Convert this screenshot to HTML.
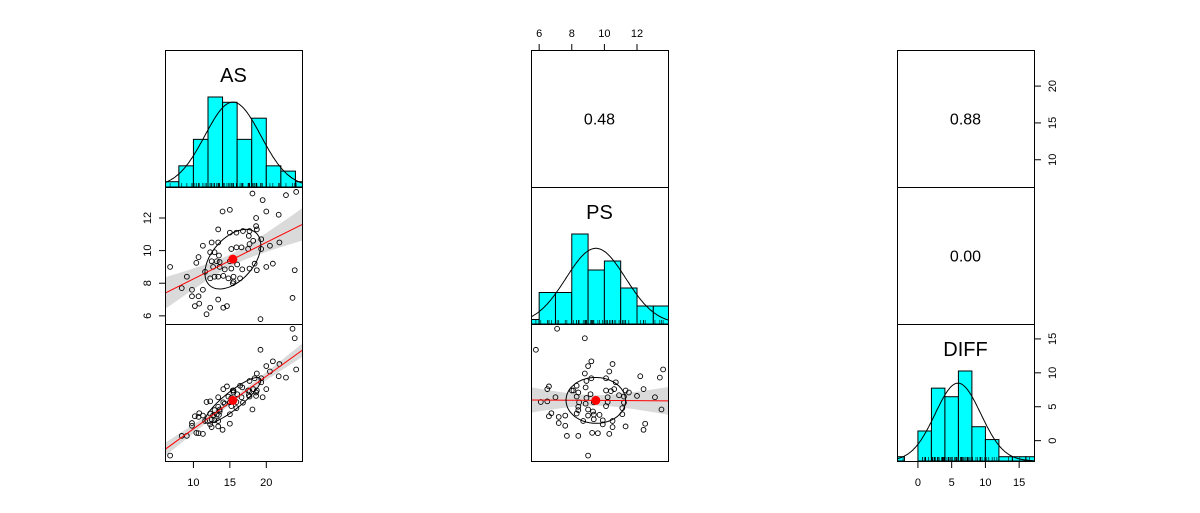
<!DOCTYPE html>
<html><head><meta charset="utf-8"><style>
html,body{margin:0;padding:0;background:#fff;width:1200px;height:513px;overflow:hidden}
svg text{font-family:"Liberation Sans",Arial,sans-serif}
</style></head><body>
<svg id="chart" width="1200" height="513" viewBox="0 0 1200 513" xmlns="http://www.w3.org/2000/svg"></svg>
<script>
const varNames = ["AS","PS","DIFF"];
const asVals = [6.8,18.1,19.5,22.7,24.1,14.0,15.0,20.0,21.7,18.6,18.6,13.4,15.0,15.9,16.8,17.7,18.7,17.6,12.5,13.4,11.3,17.7,18.2,12.3,12.9,13.5,15.2,15.9,16.6,17.5,19.3,21.8,20.5,19.3,10.7,10.4,12.5,13.2,13.6,15.0,16.0,12.7,13.6,14.3,15.2,16.7,17.7,18.4,18.7,20.0,20.9,23.9,11.6,12.3,12.9,13.4,14.1,14.8,15.5,16.4,15.5,15.4,9.1,8.4,9.8,11.3,9.8,10.7,10.8,10.2,13.4,12.3,14.1,14.6,11.8,23.6,19.2];
const psVals = [9.0,13.5,13.1,13.4,13.6,12.4,12.5,12.4,12.2,12.0,11.5,11.3,11.1,11.1,11.2,11.2,11.3,10.9,10.5,10.5,10.3,10.4,10.6,9.9,9.9,9.7,10.1,10.2,10.2,10.1,10.7,10.5,10.3,10.1,9.6,9.25,9.35,9.35,9.3,9.35,9.15,9.0,9.0,8.85,8.9,8.85,8.9,9.2,8.8,9.0,9.2,8.8,8.7,8.3,8.4,8.4,8.45,8.3,8.4,8.3,8.1,8.0,8.4,7.7,7.6,7.6,7.2,7.2,6.75,6.6,7.0,6.5,6.5,6.6,6.1,7.1,5.8];
const diffVals = asVals.map((a,i)=>+(a-psVals[i]).toFixed(2));
const corrLabels = ["0.48","0.88","0.00"];
const asTicks = [10,15,20];
const psTicks = [6,8,10,12];
const diffTicks = [0,5,10,15];
const asBreaks = [6,8,10,12,14,16,18,20,22,24,26];
const psBreaks = [5,6,7,8,9,10,11,12,13,14];
const diffBreaks = [-4,-2,0,2,4,6,8,10,12,14,16,18];

const svg = document.getElementById('chart');
const NS = "http://www.w3.org/2000/svg";
function mk(tag, attrs, parent){const e=document.createElementNS(NS,tag);for(const k in attrs)e.setAttribute(k,attrs[k]);(parent||svg).appendChild(e);return e;}
const cols=[165,531,897], rows=[50,187,324], W=137, H=137;
function lin(d0,d1,r0,r1){return v=>r0+(v-d0)*(r1-r0)/(d1-d0);}
const xs=[lin(6.1,24.9,165,302), lin(5.5,13.9,531,668), lin(-3.1,17.2,897,1034)];
const ys=[lin(6.3,24.9,187,50), lin(5.5,13.9,324,187), lin(-3.0,17.2,461,324)];
const xr=[[6.1,24.9],[5.5,13.9],[-3.1,17.2]];
const data=[asVals,psVals,diffVals], breaks=[asBreaks,psBreaks,diffBreaks];
const mean=a=>a.reduce((s,v)=>s+v,0)/a.length;
const sd=a=>{const m=mean(a);return Math.sqrt(a.reduce((s,v)=>s+(v-m)*(v-m),0)/(a.length-1));};

const defs=mk('defs',{});
for(let r=0;r<3;r++)for(let c=0;c<3;c++){const cp=mk('clipPath',{id:`cp${r}${c}`},defs);mk('rect',{x:cols[c],y:rows[r],width:W,height:H},cp);}

for(let i=0;i<3;i++){
  const g=mk('g',{'clip-path':`url(#cp${i}${i})`});
  
  
  const vals=data[i], br=breaks[i], n=vals.length, x=xs[i];
  const counts=[];for(let k=0;k<br.length-1;k++)counts.push(vals.filter(v=>v>br[k]&&v<=br[k+1]).length);
  const dens=counts.map((c,k)=>c/(n*(br[k+1]-br[k])));
  const maxD=Math.max(...dens), scale=90/maxD, base=rows[i]+H;
  dens.forEach((d,k)=>{
    const b=mk('rect',{x:x(br[k]),y:base-d*scale,width:x(br[k+1])-x(br[k]),height:d*scale,fill:'#00ffff',stroke:'#000','stroke-width':1},g);
    
    
  });
  const m=mean(vals), s=sd(vals); let p='';
  for(let t=0;t<=200;t++){const xv=xr[i][0]+t*(xr[i][1]-xr[i][0])/200;
    const dv=Math.exp(-0.5*((xv-m)/s)**2)/(s*Math.sqrt(2*Math.PI));p+=(t?'L':'M')+x(xv).toFixed(1)+','+(base-dv*scale).toFixed(1);}
  const cv=mk('path',{d:p,fill:'none',stroke:'#000','stroke-width':1},g);
  
  
  vals.forEach(v=>{const rg=mk('line',{x1:x(v),x2:x(v),y1:base,y2:base-4,stroke:'#000','stroke-width':0.6},g);
    
    });
  const lb=mk('text',{x:cols[i]+W/2,y:rows[i]+32,'font-size':20,'text-anchor':'middle'});
  lb.textContent=varNames[i];
  
  
}

[[1,0],[2,0],[2,1]].forEach(([r,c])=>{
  const g=mk('g',{'clip-path':`url(#cp${r}${c})`});
  
  
  const X=data[c],Y=data[r],x=xs[c],y=ys[r],n=X.length;
  const mx=mean(X),my=mean(Y),sx=sd(X),sy=sd(Y);
  let sxy=0,sxx=0;X.forEach((v,k)=>{sxy+=(v-mx)*(Y[k]-my);sxx+=(v-mx)**2;});
  const b=sxy/sxx,a=my-b*mx,rr=sxy/((n-1)*sx*sy);
  let sse=0;X.forEach((v,k)=>{sse+=(Y[k]-a-b*v)**2;});const se=Math.sqrt(sse/(n-2));
  const xl=xr[c];
  let up='',lo='';
  for(let t=0;t<=50;t++){const xv=xl[0]+t*(xl[1]-xl[0])/50;const f=a+b*xv;const h=1.99*se*Math.sqrt(1/n+(xv-mx)**2/sxx);
    up+=(t?'L':'M')+x(xv).toFixed(1)+','+y(f+h).toFixed(1);lo=`L${x(xv).toFixed(1)},${y(f-h).toFixed(1)}`+lo;}
  const band=mk('path',{d:up+lo+'Z',fill:'#d3d3d3','fill-opacity':0.85},g);
  
  
  X.forEach((v,k)=>{const pt=mk('circle',{cx:x(v),cy:y(Y[k]),r:2.4,fill:'none',stroke:'#000','stroke-width':0.9},g);
    
    });
  const ln=mk('line',{x1:x(xl[0]),y1:y(a+b*xl[0]),x2:x(xl[1]),y2:y(a+b*xl[1]),stroke:'#ff0000','stroke-width':1},g);
  
  
  const d=Math.acos(Math.max(-1,Math.min(1,rr)));let ep='';
  for(let t=0;t<=100;t++){const th=t/100*2*Math.PI;ep+=(t?'L':'M')+x(mx+sx*Math.cos(th+d/2)).toFixed(1)+','+y(my+sy*Math.cos(th-d/2)).toFixed(1);}
  const el=mk('path',{d:ep,fill:'none',stroke:'#000','stroke-width':1},g);
  
  
  const cm=mk('circle',{cx:x(mx),cy:y(my),r:4.5,fill:'#ff0000'},g);
  
  
});

[[0,1,0],[0,2,1],[1,2,2]].forEach(([r,c,k])=>{
  const t=mk('text',{x:cols[c]+W/2,y:rows[r]+H/2+6,'font-size':16,'text-anchor':'middle'});
  t.textContent=corrLabels[k];
  
  
});

for(let r=0;r<3;r++)for(let c=0;c<3;c++){
  const f=mk('rect',{x:cols[c]+0.5,y:rows[r]+0.5,width:W,height:H,fill:'none',stroke:'#000','stroke-width':1});
  
  
}

function axisH(ticks,scale,yb,dir,name){
  const g=mk('g',{});
  ticks.forEach(v=>{mk('line',{x1:scale(v),x2:scale(v),y1:yb,y2:yb+dir*6,stroke:'#000'},g);
    const t=mk('text',{x:scale(v),y:dir>0?yb+24:yb-13,'font-size':11,'text-anchor':'middle'},g);t.textContent=v;});
}
function axisV(ticks,scale,xb,dir,name){
  const g=mk('g',{});
  ticks.forEach(v=>{mk('line',{y1:scale(v),y2:scale(v),x1:xb,x2:xb+dir*6,stroke:'#000'},g);
    const tx=dir>0?xb+21:xb-14;const t=mk('text',{x:tx,y:scale(v),'font-size':11,'text-anchor':'middle',transform:`rotate(-90 ${tx} ${scale(v)})`},g);t.textContent=v;});
}
axisH(asTicks,xs[0],462,1,'x-axis-as');
axisH(diffTicks,xs[2],462,1,'x-axis-diff');
axisH(psTicks,xs[1],50,-1,'x-axis-ps-top');
axisV(psTicks,ys[1],165,-1,'y-axis-ps-left');
axisV(asTicks,ys[0],1035,1,'y-axis-as-right');
axisV(diffTicks,ys[2],1035,1,'y-axis-diff-right');
</script>
</body></html>
